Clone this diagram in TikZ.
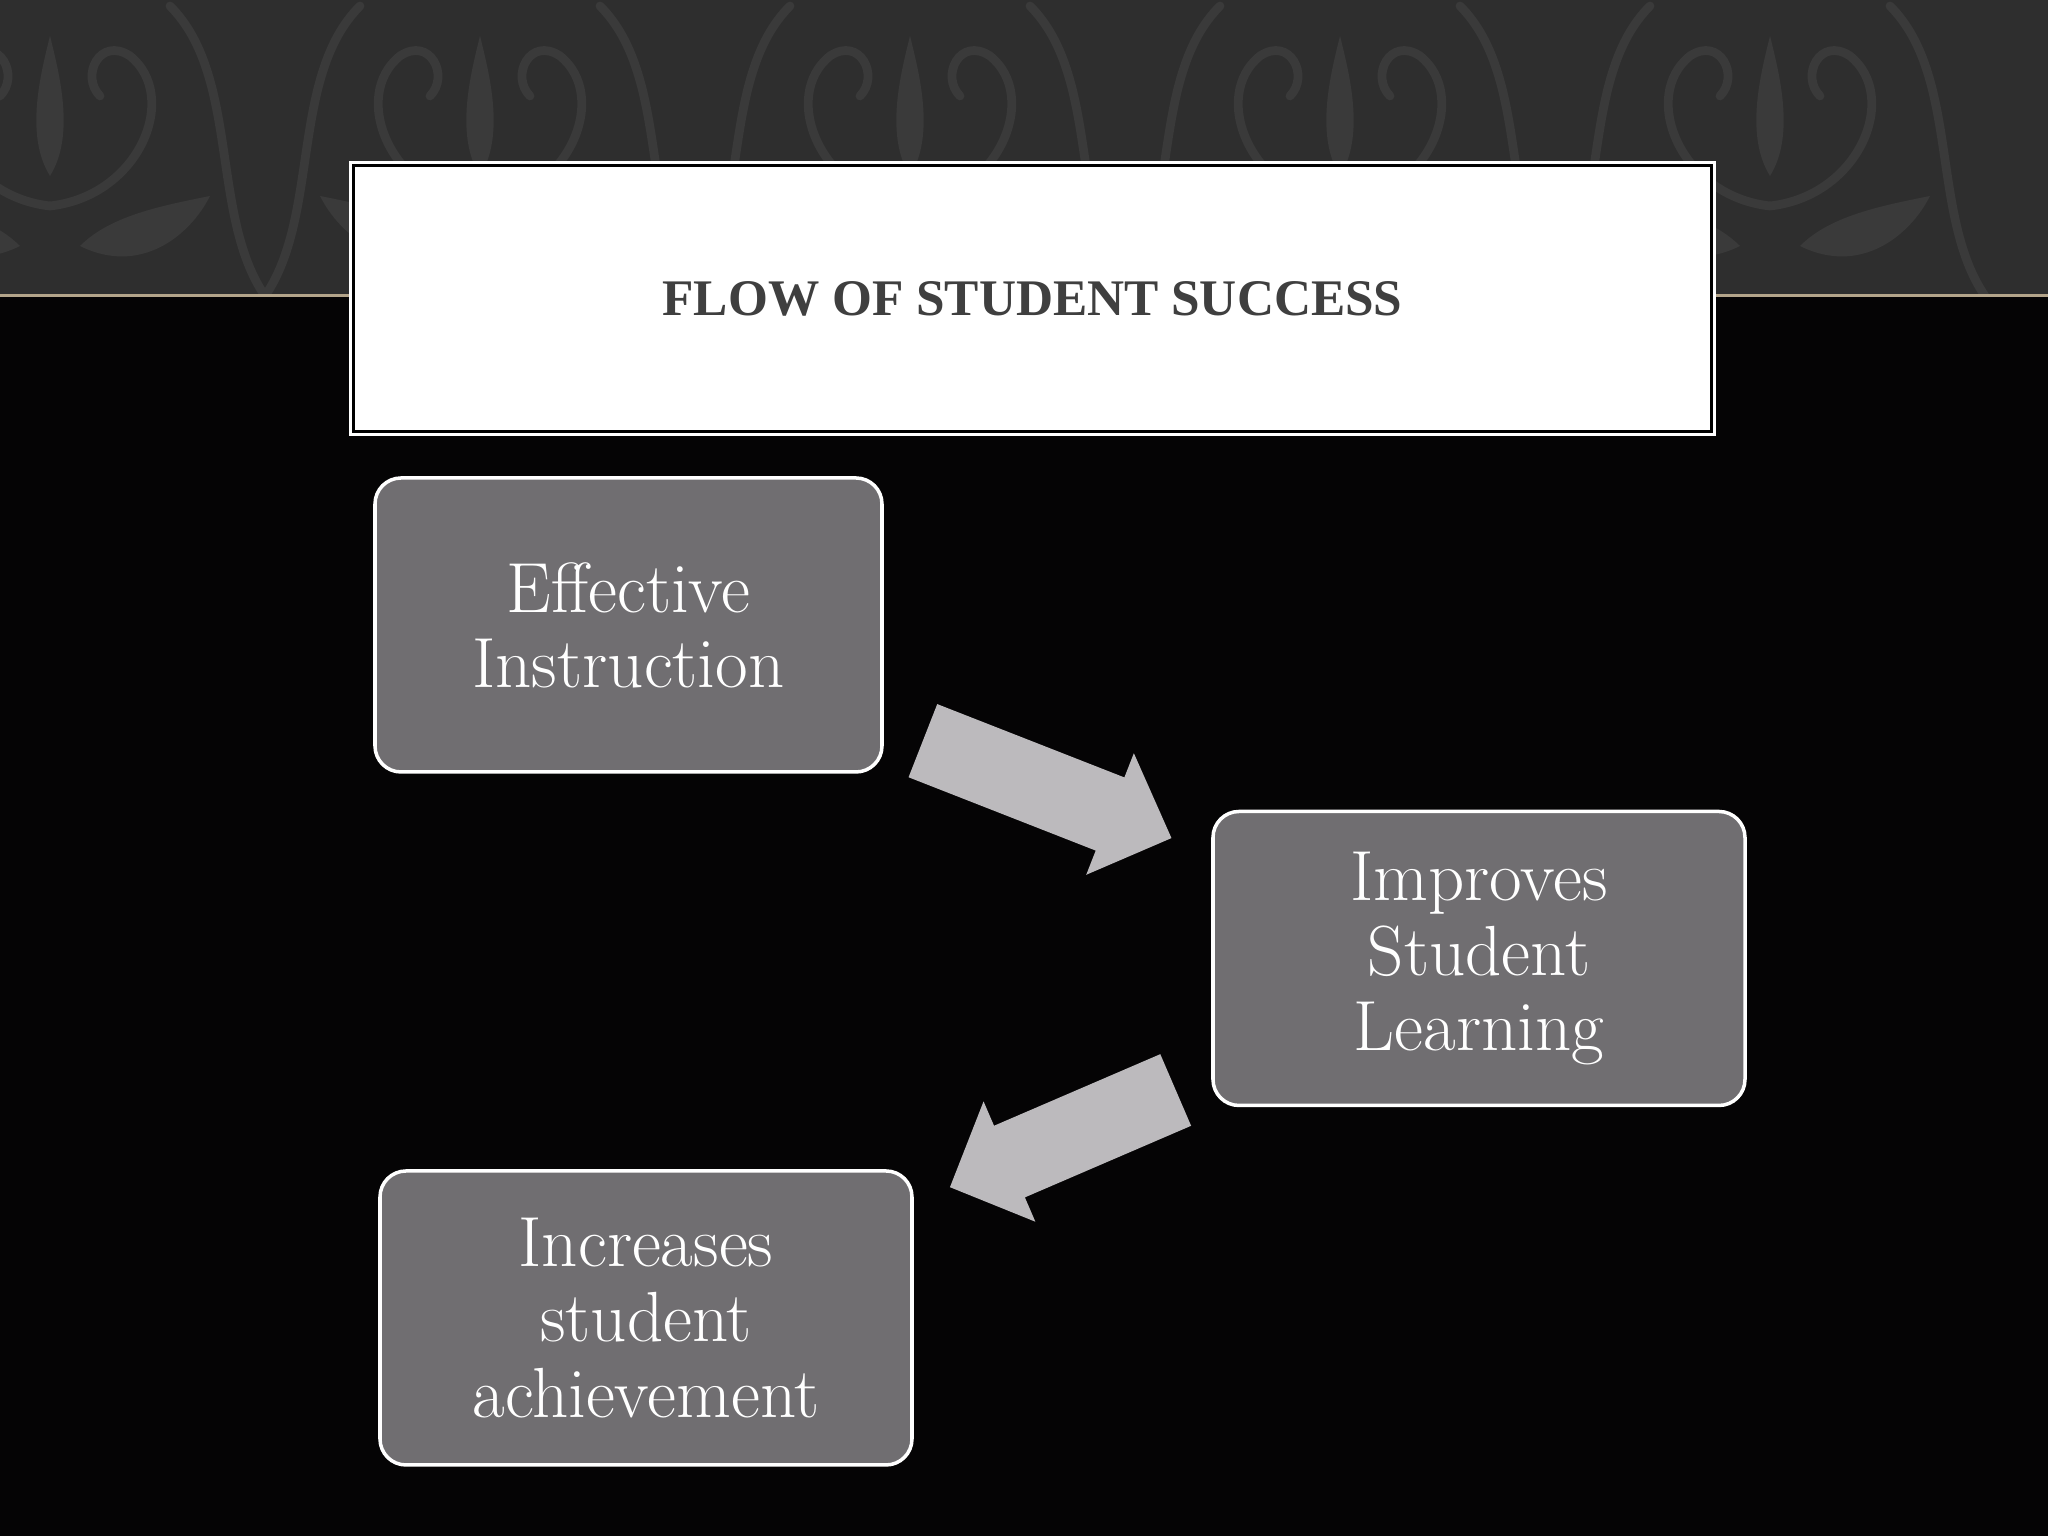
\documentclass[tikz,border=0pt]{standalone}
\usepackage{fontspec}
\newfontfamily\titlefont{Liberation Serif}
\definecolor{bgblack}{HTML}{050405}
\definecolor{bandgray}{HTML}{2E2E2E}
\definecolor{damaskgray}{HTML}{3A3A3A}
\definecolor{tanline}{HTML}{B3A48A}
\definecolor{boxgray}{HTML}{706E71}
\definecolor{arrowgray}{HTML}{BCBABD}
\definecolor{titlegray}{HTML}{3F3F3F}
\tikzset{
  stepbox/.style={draw=white, line width=1pt, fill=boxgray, rounded corners=0.26cm,
    text=white, align=center, minimum height=2.94cm,
    font=\fontsize{20.2}{21.4}\selectfont},
  titlebox/.style={draw=white, line width=0.8pt, fill=white, minimum width=13.65cm,
    minimum height=2.73cm, text=titlegray, font=\titlefont\bfseries\fontsize{14.6}{16}\selectfont},
  blockarrow/.style={fill=arrowgray},
  damask/.style={draw=damaskgray, fill=damaskgray, line width=2.5pt, line cap=round},
}
\begin{document}
\begin{tikzpicture}
  \useasboundingbox (0,0) rectangle (20.48,15.36);
  % background
  \fill[bgblack] (0,0) rectangle (20.48,15.36);
  \fill[bandgray] (0,12.40) rectangle (20.48,15.36);
  \begin{scope}
    \clip (0,12.40) rectangle (20.48,15.36);
    \foreach \x in {0.5,4.8,...,21} {
      \foreach \s in {1,-1} {
        \begin{scope}[shift={(\x,12.4)}, xscale=\s]
          \fill[damaskgray] (0,1.2) .. controls (-0.25,1.6) and (-0.1,2.2) .. (0,2.6) -- (0,1.2);
          \draw[damask, fill=none] (0,0.9) .. controls (-0.9,1.0) and (-1.3,2.0) .. (-0.8,2.4)
            .. controls (-0.5,2.6) and (-0.3,2.2) .. (-0.5,2.0);
          \fill[damaskgray] (-0.3,0.5) .. controls (-0.9,0.2) and (-1.4,0.6) .. (-1.6,1.0)
            .. controls (-1.1,0.9) and (-0.6,0.8) .. (-0.3,0.5);
          \draw[damask, fill=none] (-2.15,0) .. controls (-1.6,0.8) and (-1.9,2.2) .. (-1.2,2.9);
        \end{scope}
      }
    }
  \end{scope}
  \draw[tanline, line width=0.85pt] (0,12.40) -- (20.48,12.40);
  % title
  \node[titlebox] (title) at (10.325,12.375) {FLOW OF STUDENT SUCCESS};
  \draw[black, line width=0.85pt] ([shift={(0.05,0.05)}]title.south west)
    rectangle ([shift={(-0.05,-0.05)}]title.north east);
  % boxes
  \node[stepbox, minimum width=5.07cm] (effective) at (6.285,9.11) {Effective\\Instruction};
  \node[stepbox, minimum width=5.32cm] (improves) at (14.79,5.775) {Improves\\Student\\Learning};
  \node[stepbox, minimum width=5.32cm] (increases) at (6.46,2.18) {Increases\\student\\achievement};
  % arrows
  \coordinate (arrowA) at (9.229,7.953);
  \fill[blockarrow, shift={(arrowA)}, rotate=-21.4] (0,-0.393) -- (2.01,-0.393) -- (2.01,-0.653)
    -- (2.67,0) -- (2.01,0.653) -- (2.01,0.393) -- (0,0.393) -- cycle;
  \coordinate (arrowB) at (11.757,4.46);
  \fill[blockarrow, shift={(arrowB)}, rotate=203.3] (0,-0.39) -- (1.81,-0.39) -- (1.81,-0.655)
    -- (2.458,0) -- (1.81,0.655) -- (1.81,0.39) -- (0,0.39) -- cycle;
\end{tikzpicture}
\end{document}
